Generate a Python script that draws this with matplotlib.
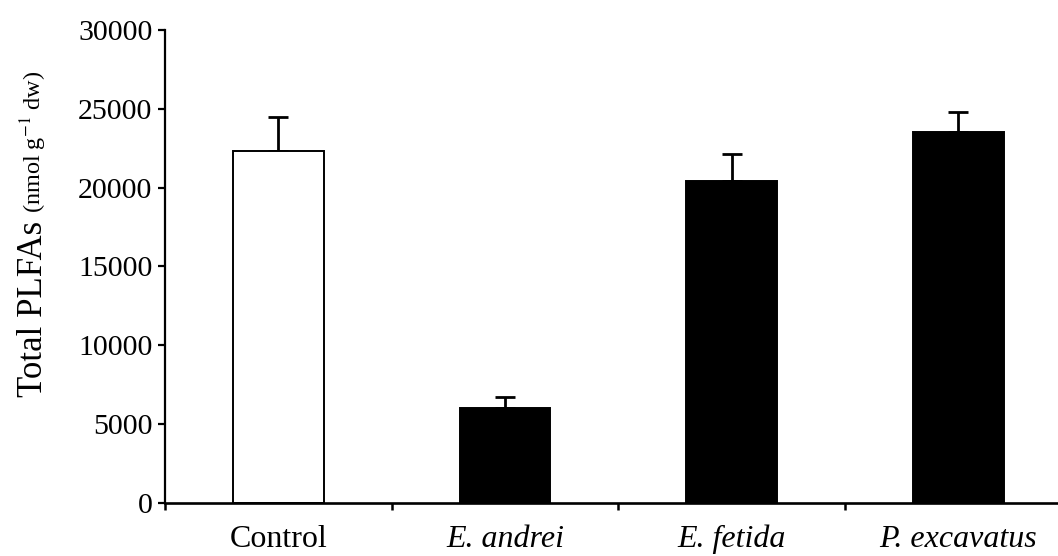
import matplotlib
matplotlib.use("Agg")
import matplotlib.pyplot as plt
from matplotlib.ticker import FixedLocator

categories = ["Control", "E. andrei", "E. fetida", "P. excavatus"]
italic_flags = [False, True, True, True]
values = [22300, 6000, 20400, 23500]
errors = [2150, 700, 1700, 1300]
face_colors = ["white", "black", "black", "black"]
yticks = [0, 5000, 10000, 15000, 20000, 25000, 30000]

plt.rcParams["font.family"] = ["Liberation Serif", "DejaVu Serif"]
plt.rcParams["mathtext.fontset"] = "stix"

W, H = 1058, 556
fig = plt.figure(figsize=(W / 100, H / 100), dpi=100)
left_px, bottom_px, top_px = 165, 502.7, 30
ax = fig.add_axes([left_px / W, 1 - bottom_px / H, 1 - left_px / W, (bottom_px - top_px) / H])

x = list(range(len(categories)))
ax.bar(x, values, width=0.40, color=face_colors, edgecolor="black", linewidth=1.4, zorder=2)
ax.errorbar(x, values, yerr=[[0] * len(values), errors], fmt="none", ecolor="black",
            elinewidth=2.0, capsize=7, capthick=2.0, zorder=1)

ax.set_ylim(0, 30000)
ax.set_xlim(-0.5, -0.5 + (W - left_px) / 226.7)
ax.set_yticks(yticks)
ax.set_yticklabels([str(v) for v in yticks], fontsize=21.5)
ax.set_xticks(x)
ax.set_xticklabels(categories, fontsize=23)
for lab, it in zip(ax.get_xticklabels(), italic_flags):
    if it:
        lab.set_fontstyle("italic")
ax.xaxis.set_minor_locator(FixedLocator([-0.5, 0.5, 1.5, 2.5]))
ax.tick_params(axis="x", which="major", length=0, pad=16)
ax.tick_params(axis="x", which="minor", length=5, width=1.8, direction="out")
ax.tick_params(axis="y", which="major", length=5, width=1.6, direction="out", pad=4)

for s in ["top", "right"]:
    ax.spines[s].set_visible(False)
ax.spines["left"].set_linewidth(1.6)
ax.spines["bottom"].set_linewidth(1.9)

fig.text(41.5 / W, 1 - 397 / H, "Total PLFAs", rotation=90, rotation_mode="anchor",
         ha="left", va="baseline", fontsize=25)
fig.text(41.5 / W, 1 - 213 / H, r"(nmol g$^{-1}$ dw)", rotation=90, rotation_mode="anchor",
         ha="left", va="baseline", fontsize=17.5)

fig.savefig("out.png", dpi=100)
